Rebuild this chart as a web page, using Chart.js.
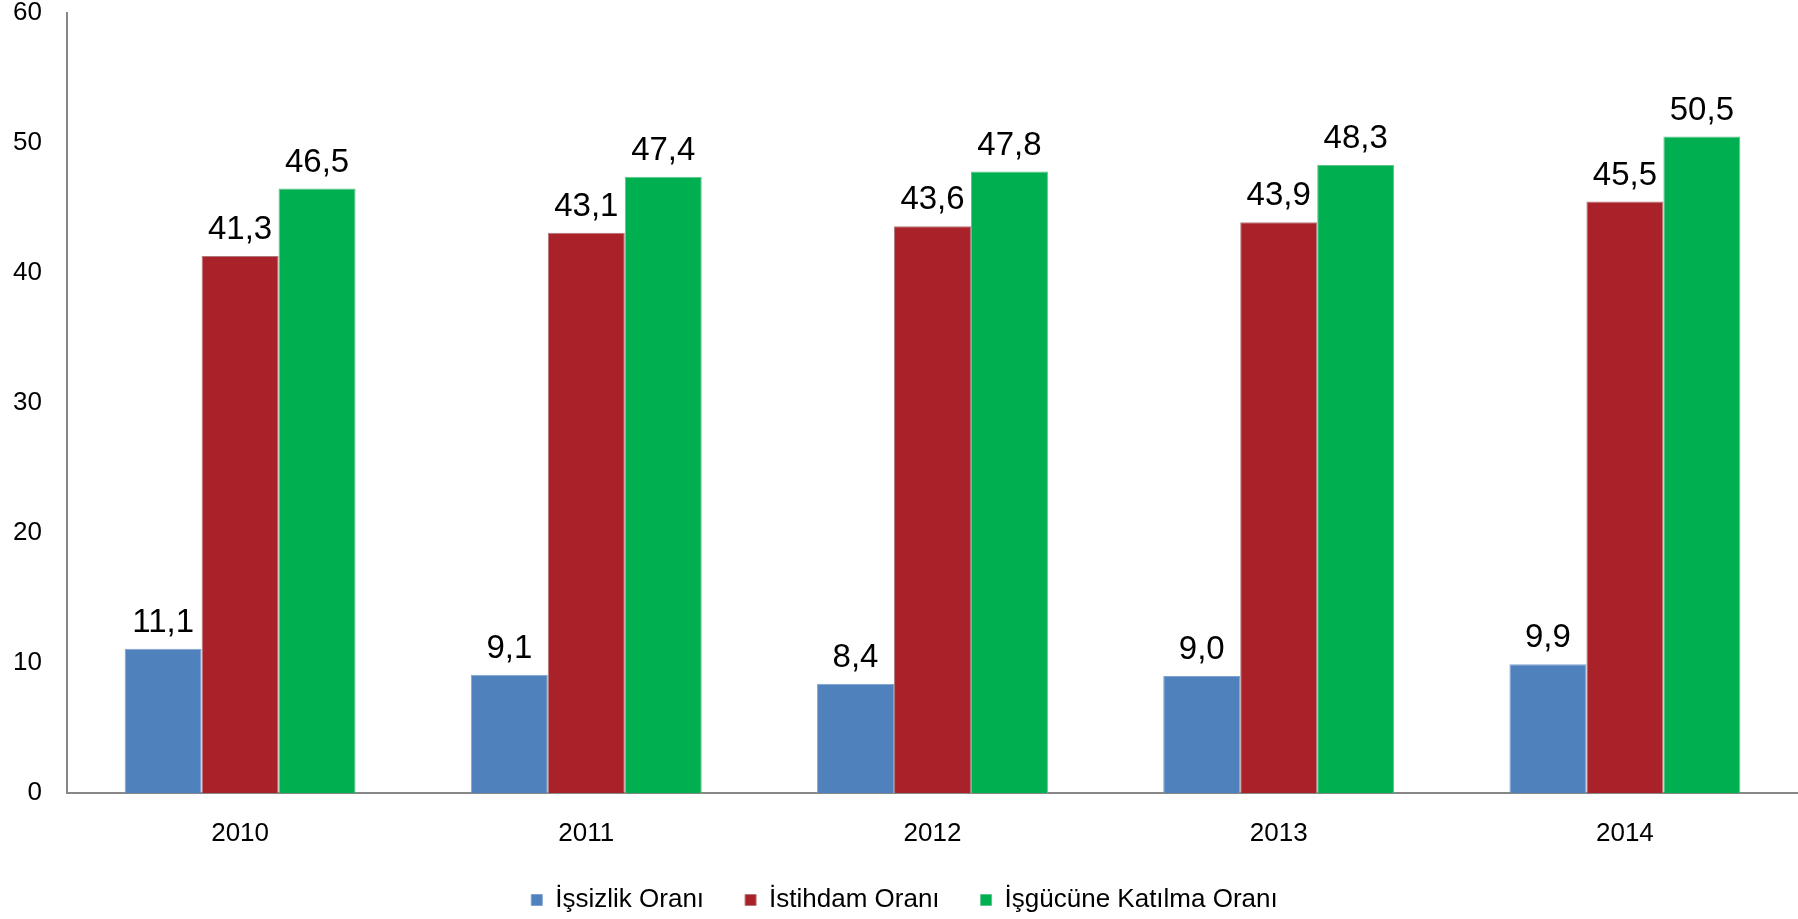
<!DOCTYPE html>
<html>
<head>
<meta charset="utf-8">
<script src="https://cdn.jsdelivr.net/npm/chart.js@4/dist/chart.umd.min.js"></script>
<style>
  html, body { margin: 0; padding: 0; background: #fff; }
  #wrap { width: 1798px; height: 919px; position: relative; }
</style>
</head>
<body>
<div id="wrap"><canvas id="c"></canvas></div>
<script>
"use strict";

const YEARS = ["2010", "2011", "2012", "2013", "2014"];
const SERIES_NAMES = ["İşsizlik Oranı", "İstihdam Oranı", "İşgücüne Katılma Oranı"];
const ISSIZLIK = [11.1, 9.1, 8.4, 9.0, 9.9];
const ISTIHDAM = [41.3, 43.1, 43.6, 43.9, 45.5];
const ISGUCU = [46.5, 47.4, 47.8, 48.3, 50.5];
const Y_TICKS = [0, 10, 20, 30, 40, 50, 60];

const FONT = '"Liberation Sans", Arial, sans-serif';
const fmt = (v) => v.toFixed(1).replace(".", ",");

/* value labels above each bar, Turkish decimal comma */
const valueLabels = {
  id: "valueLabels",
  afterDatasetsDraw(chart) {
    const { ctx } = chart;
    ctx.save();
    ctx.font = "33px " + FONT;
    ctx.fillStyle = "#000";
    ctx.textAlign = "center";
    ctx.textBaseline = "alphabetic";
    chart.data.datasets.forEach((ds, i) => {
      chart.getDatasetMeta(i).data.forEach((bar, j) => {
        ctx.fillText(fmt(ds.data[j]), bar.x, bar.y - 17);
      });
    });
    ctx.restore();
  },
};

const bar = (label, data, bg, border) => ({
  label, data, backgroundColor: bg, borderColor: border, borderWidth: 1,
  categoryPercentage: 0.667, barPercentage: 1.0,
});

new Chart(document.getElementById("c"), {
  type: "bar",
  data: {
    labels: YEARS,
    datasets: [
      bar(SERIES_NAMES[0], ISSIZLIK, "#4F81BD", "#7FA1D0"),
      bar(SERIES_NAMES[1], ISTIHDAM, "#AA2229", "#B0787B"),
      bar(SERIES_NAMES[2], ISGUCU, "#00B050", "#5DC58A"),
    ],
  },
  options: {
    responsive: true,
    maintainAspectRatio: false,
    animation: false,
    // small left padding + narrower y box keeps the plot at x=67 but nudges
    // the centred legend right (y labels are clipped to their box, so <=13)
    layout: { padding: { top: 13, right: 0, bottom: -4, left: 11 } },
    plugins: {
      tooltip: { enabled: false },
      legend: {
        position: "bottom",
        labels: {
          boxWidth: 11, boxHeight: 11, padding: 41, color: "#000",
          font: { family: FONT, size: 26 },
        },
      },
    },
    scales: {
      x: {
        grid: { display: false, drawTicks: false },
        border: { display: true, color: "#878787", width: 2 },
        ticks: { color: "#000", padding: 25, font: { family: FONT, size: 26 } },
        afterFit: (s) => { s.height = 53; },
      },
      y: {
        min: 0, max: 60,
        afterBuildTicks: (s) => { s.ticks = Y_TICKS.map((v) => ({ value: v })); },
        // invisible tick length instead of tick padding (padding would
        // also be added above the top label)
        grid: { display: false, drawTicks: true, tickLength: 25 },
        border: { display: true, color: "#878787", width: 2 },
        ticks: { color: "#000", padding: 0,
                 font: { family: FONT, size: 26, lineHeight: 1 } },
        afterFit: (s) => { s.width = 56; },
      },
    },
  },
  plugins: [valueLabels],
});
</script>
</body>
</html>
